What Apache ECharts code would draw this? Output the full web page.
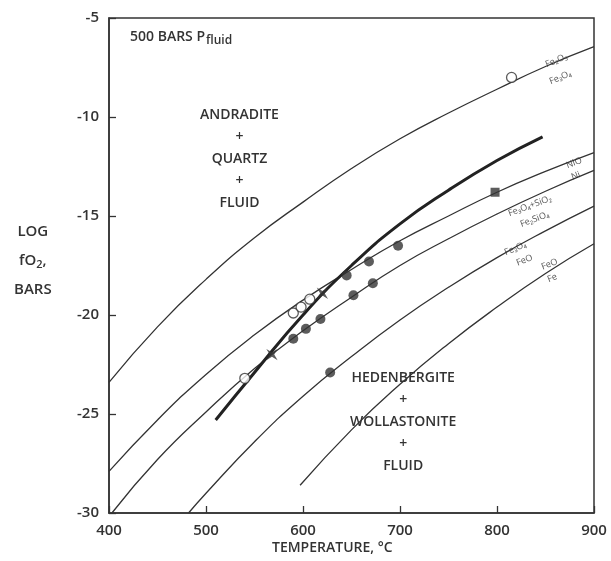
<!DOCTYPE html>
<html>
<head>
<meta charset="utf-8">
<script src="https://cdn.jsdelivr.net/npm/echarts@6/dist/echarts.min.js"></script>
<style>
  html, body { margin: 0; padding: 0; background: #fff; }
  #chart { width: 611px; height: 561px; }
</style>
</head>
<body>
<div id="chart"></div>
<script>
// buffer curves, [temperature °C, log fO2]
const hmCurve  = [[400, -23.4], [450, -20.6], [500, -18.2], [550, -16.1], [600, -14.3], [650, -12.6], [700, -11.1], [750, -9.8], [800, -8.6], [850, -7.45], [900, -6.45]];
const nnoCurve = [[400, -27.9], [450, -25.3], [500, -23.0], [550, -21.0], [600, -19.25], [650, -17.7], [700, -16.25], [750, -15.0], [800, -13.8], [850, -12.75], [900, -11.8]];
const fqmCurve = [[403, -30], [450, -27.3], [500, -24.9], [550, -22.7], [600, -20.8], [650, -19.1], [700, -17.5], [750, -16.15], [800, -14.9], [850, -13.75], [900, -12.7]];
const mwCurve  = [[482, -30], [500, -29.0], [550, -26.4], [600, -24.1], [650, -22.1], [700, -20.25], [750, -18.6], [800, -17.1], [850, -15.75], [900, -14.5]];
const wiCurve  = [[597, -28.6], [650, -25.8], [700, -23.5], [750, -21.45], [800, -19.6], [850, -17.9], [900, -16.4]];
const reactionCurve = [[510, -25.3], [550, -22.9], [600, -20.0], [650, -17.5], [700, -15.4], [750, -13.7], [800, -12.2], [847, -11.0]];

// experimental points
const openPoints = [[540, -23.2], [590, -19.9], [598, -19.6], [607, -19.2], [815, -8.0]];
const filledPoints = [[590, -21.2], [603, -20.7], [618, -20.2], [645, -18.0], [668, -17.3], [698, -16.5], [652, -19.0], [672, -18.4], [628, -22.9]];
const starPoints = [[568, -22.0], [620, -18.9]];
const squarePoints = [[798, -13.8]];

const xTicks = [400, 500, 600, 700, 800, 900];
const yTicks = [-30, -25, -20, -15, -10, -5];

const ink = '#333';
const font = '"Open Sans", "DejaVu Sans", sans-serif';

const chart = echarts.init(document.getElementById('chart'));

function thin(data) {
  return {
    type: 'line', data, smooth: true, symbol: 'none', silent: true,
    lineStyle: { color: ink, width: 1.3 }, z: 2,
  };
}

function smallLabel(text, left, top, rot) {
  return {
    type: 'text', left, top, rotation: rot * Math.PI / 180,
    style: { text, fill: '#555', font: '9px ' + font },
  };
}

chart.setOption({
  animation: false,
  backgroundColor: '#fff',
  grid: { left: 109, right: 17, top: 18, bottom: 48, show: true, borderColor: ink, borderWidth: 1.5, backgroundColor: 'transparent' },
  xAxis: {
    type: 'value', min: 400, max: 900, interval: 100,
    axisLine: { lineStyle: { color: ink, width: 1.5 } },
    axisTick: { inside: true, length: 7, lineStyle: { color: ink, width: 1.3 } },
    axisLabel: { color: ink, fontSize: 15, fontFamily: font, fontWeight: 600, margin: 10,
      formatter: v => xTicks.includes(v) ? String(v) : '' },
    splitLine: { show: false },
  },
  yAxis: {
    type: 'value', min: -30, max: -5, interval: 5,
    axisLine: { lineStyle: { color: ink, width: 1.5 } },
    axisTick: { inside: true, length: 7, lineStyle: { color: ink, width: 1.3 } },
    axisLabel: { color: ink, fontSize: 15, fontFamily: font, fontWeight: 600, margin: 10,
      formatter: v => yTicks.includes(v) ? String(v) : '' },
    splitLine: { show: false },
  },
  graphic: [
    { type: 'text', left: 130, top: 30,
      style: { text: '{b|500 BARS P}{s|fluid}', rich: {
        b: { fill: ink, font: '600 14px ' + font },
        s: { fill: ink, font: '600 12px ' + font, padding: [8, 0, 0, 1] } } } },
    { type: 'text', left: 200, top: 104,
      style: { text: 'ANDRADITE\n+\nQUARTZ\n+\nFLUID', fill: ink, font: '600 14px ' + font, lineHeight: 22, textAlign: 'center', x: 45 } },
    { type: 'text', left: 350, top: 367,
      style: { text: 'HEDENBERGITE\n+\nWOLLASTONITE\n+\nFLUID', fill: ink, font: '600 14px ' + font, lineHeight: 22, textAlign: 'center', x: 62 } },
    { type: 'text', left: 272, top: 541,
      style: { text: 'TEMPERATURE, °C', fill: ink, font: '600 14px ' + font } },
    { type: 'text', left: 14, top: 224,
      style: { text: '{a|LOG}\n{a|fO}{s|2}{a|,}\n{a|BARS}', align: 'center', x: 20, textAlign: 'center', rich: {
        a: { fill: ink, font: '600 15px ' + font, lineHeight: 29, align: 'center' },
        s: { fill: ink, font: '600 11px ' + font, padding: [8, 0, 0, 0] } } } },
    smallLabel('Fe₂O₃', 544, 52, 22),
    smallLabel('Fe₃O₄', 548, 69, 22),
    smallLabel('NiO', 565, 156, 20),
    smallLabel('Ni', 570, 170, 20),
    smallLabel('Fe₃O₄+SiO₂', 507, 194, 20),
    smallLabel('Fe₂SiO₄', 519, 210, 20),
    smallLabel('Fe₃O₄', 503, 240, 22),
    smallLabel('FeO', 515, 253, 22),
    smallLabel('FeO', 540, 257, 22),
    smallLabel('Fe', 546, 272, 22),
  ],
  series: [
    thin(hmCurve), thin(nnoCurve), thin(fqmCurve), thin(mwCurve), thin(wiCurve),
    { type: 'line', data: reactionCurve, smooth: true, symbol: 'none', silent: true,
      lineStyle: { color: '#222', width: 3 }, z: 3 },
    { type: 'scatter', data: openPoints, symbol: 'circle', symbolSize: 10, z: 5,
      itemStyle: { color: '#fff', borderColor: ink, borderWidth: 1.3 } },
    { type: 'scatter', data: filledPoints, symbol: 'circle', symbolSize: 10, z: 5,
      itemStyle: { color: '#333' } },
    { type: 'scatter', data: starPoints, z: 5, symbolSize: 16,
      symbol: 'path://M0,-10 L2,-2 L10,0 L2,2 L0,10 L-2,2 L-10,0 L-2,-2 Z', symbolRotate: 45,
      itemStyle: { color: '#333' } },
    { type: 'scatter', data: squarePoints, symbol: 'rect', symbolSize: 9, z: 5,
      itemStyle: { color: '#333' } },
  ],
});
</script>
</body>
</html>
